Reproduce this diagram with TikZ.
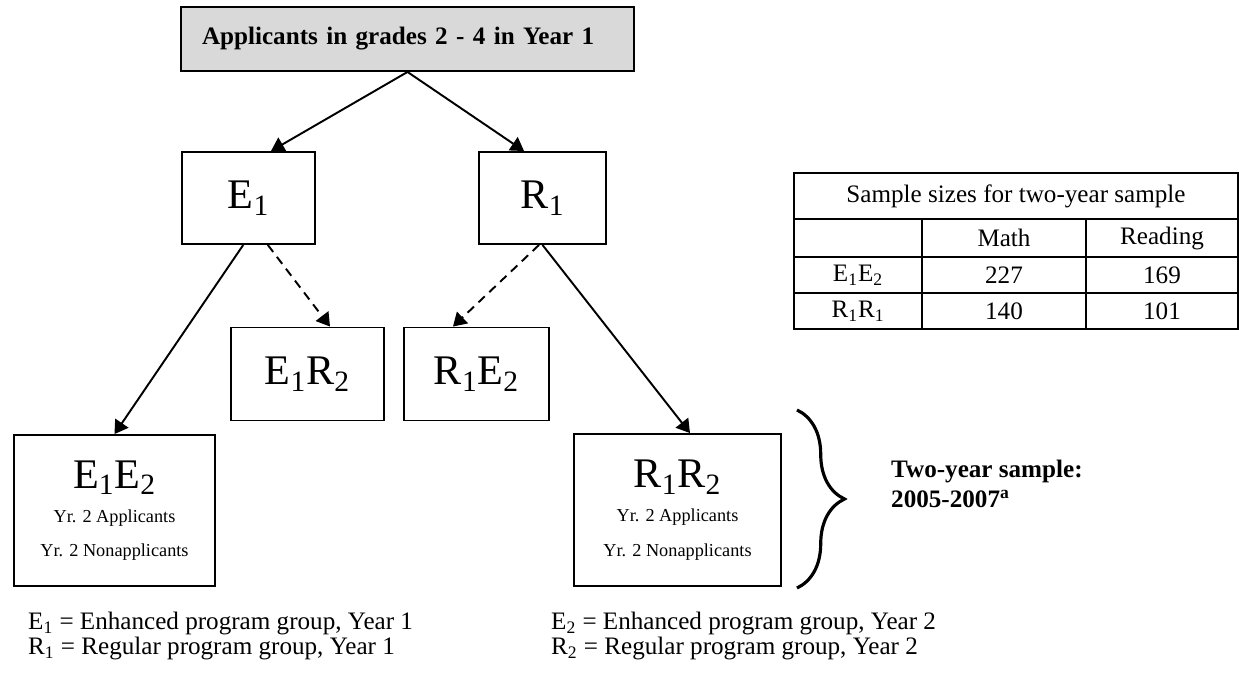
\documentclass[tikz,border=0pt]{standalone}
\usepackage{fontspec}
\setmainfont{Liberation Serif}
\usetikzlibrary{arrows.meta,positioning,decorations.pathreplacing}

\tikzset{
  topbox/.style={draw, fill=black!15, line width=1.1pt, minimum width=9.06cm, minimum height=1.28cm,
    text width=8.22cm, inner xsep=0.42cm, align=left, font=\bfseries\fontsize{14.3}{17}\selectfont},
  grpbox/.style={draw, line width=1.1pt, inner sep=0pt, font=\fontsize{24}{26}\selectfont},
  bigbox/.style={draw, line width=1.1pt, inner sep=0pt, align=center, font=\fontsize{10.4}{19.5}\selectfont},
  arrsolid/.style={-{Triangle[length=7.5pt,width=9pt]}, line width=1.1pt},
  arrdash/.style={arrsolid, dash pattern=on 5pt off 3.5pt},
  cell/.style={font=\fontsize{14.3}{17}\selectfont},
  legtext/.style={anchor=west, align=left, font=\fontsize{14.3}{12.8}\selectfont}
}

\begin{document}
\begin{tikzpicture}[x=0.02cm, y=-0.02cm]
  \useasboundingbox (0,0) rectangle (1239,679);

  % tree
  \node[topbox] (appl) at (407.5,39) {Applicants in grades 2 - 4 in Year 1};
  \node[grpbox, minimum width=2.66cm, minimum height=1.84cm] (e1) at (248.5,198) {E\textsubscript{1}};
  \node[grpbox, minimum width=2.54cm, minimum height=1.84cm] (r1) at (542.5,198) {R\textsubscript{1}};
  \node[grpbox, minimum width=3.06cm, minimum height=1.86cm] (e1r2) at (307.5,374) {E\textsubscript{1}R\textsubscript{2}};
  \node[grpbox, minimum width=2.90cm, minimum height=1.86cm] (r1e2) at (476.5,374) {R\textsubscript{1}E\textsubscript{2}};
  \node[bigbox, minimum width=4.02cm, minimum height=3.02cm] (e1e2) at (114.5,510.5)
    {{\fontsize{24}{26}\selectfont E\textsubscript{1}E\textsubscript{2}}\\ Yr. 2 Applicants\\ Yr. 2 Nonapplicants};
  \node[bigbox, minimum width=4.14cm, minimum height=3.04cm] (r1r2) at (677.5,510)
    {{\fontsize{24}{26}\selectfont R\textsubscript{1}R\textsubscript{2}}\\ Yr. 2 Applicants\\ Yr. 2 Nonapplicants};

  \draw[arrsolid] (appl.south) -- ([xshift=12.8pt]e1.north);
  \draw[arrsolid] (appl.south) -- ([xshift=-10.5pt]r1.north);
  \draw[arrsolid] ([xshift=-3pt]e1.south) -- (e1e2.north);
  \draw[arrdash] ([xshift=11pt]e1.south) -- ([xshift=12.8pt]e1r2.north);
  \draw[arrdash] ([xshift=-2pt]r1.south) -- ([xshift=-13.4pt]r1e2.north);
  \draw[arrsolid] (r1.south) -- ([xshift=7.1pt]r1r2.north);

  % brace
  \coordinate (brtop) at (797,410);
  \coordinate (brbot) at (797,588);
  \draw[line width=1.8pt, decorate, decoration={brace, amplitude=27pt}] (brtop) -- (brbot);
  \node[anchor=west, align=left, font=\bfseries\fontsize{14.3}{17}\selectfont] (twoyr) at (885,484)
    {Two-year sample:\\2005-2007\textsuperscript{a}};

  % table
  \draw[line width=1.1pt] (794,173) rectangle (1238,329);
  \draw[line width=1.1pt] (794,219) -- (1238,219) (794,257) -- (1238,257) (794,293) -- (1238,293);
  \draw[line width=1.1pt] (922,219) -- (922,329) (1086,219) -- (1086,329);
  \node[cell] (thead) at (1016,196) {Sample sizes for two-year sample};
  \node[cell] (tmath) at (1004,238) {Math};
  \node[cell] (tread) at (1162,238) {Reading};
  \node[cell] (tee) at (858,275) {E\textsubscript{1}E\textsubscript{2}};
  \node[cell] (tee1) at (1004,275) {227};
  \node[cell] (tee2) at (1162,275) {169};
  \node[cell] (trr) at (858,311) {R\textsubscript{1}R\textsubscript{1}};
  \node[cell] (trr1) at (1004,311) {140};
  \node[cell] (trr2) at (1162,311) {101};

  % legend
  \node[legtext] (legl) at (22,636)
    {E\textsubscript{1} = Enhanced program group, Year 1\\R\textsubscript{1} = Regular program group, Year 1};
  \node[legtext] (legr) at (545,636)
    {E\textsubscript{2} = Enhanced program group, Year 2\\R\textsubscript{2} = Regular program group, Year 2};
\end{tikzpicture}
\end{document}
